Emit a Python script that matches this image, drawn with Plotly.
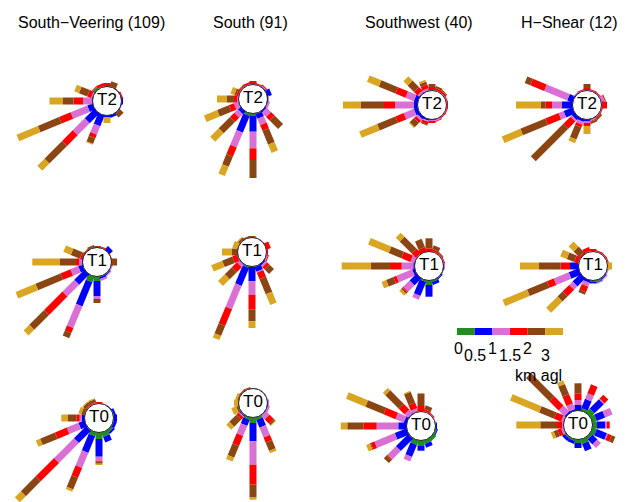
import math
import plotly.graph_objects as go

# ---------------- data ----------------
height_labels = ["0", "0.5", "1", "1.5", "2", "3"]
bin_colors = ["#228B22", "#0000FF", "#DA70D6", "#FF0000", "#8B4513", "#DAA520"]
regime_titles = ["South\u2212Veering (109)", "South (91)", "Southwest (40)", "H\u2212Shear (12)"]
time_labels = ["T2", "T1", "T0"]
directions_deg = [k * 22.5 for k in range(16)]  # counter-clockwise from east

# each row = one direction; values = bar length per height bin [0-0.5,0.5-1,1-1.5,1.5-2,2-3,3+]
south_veering_t2 = [
    [0, 2, 0, 0, 0, 0], [0, 1, 0, 1, 0, 0], [0, 0, 0, 1, 0, 0], [0, 0, 0, 1, 5, 0],
    [0, 0, 0, 4, 0, 0], [0, 0, 1, 3, 0, 0], [3, 0, 0, 1, 0, 0], [0, 1, 1, 4, 9, 5],
    [0, 1, 9, 9.5, 10.5, 13.5], [0, 6, 18, 12.5, 23, 23], [0, 14, 17, 15, 25, 10], [0, 12, 9, 4, 6, 1],
    [0, 2, 0, 0, 0, 6], [0, 3, 0, 0, 0, 0], [0, 1, 0, 0, 5, 0], [0, 1, 0, 0, 0, 0],
]
south_t2 = [
    [0, 1, 1, 0, 0, 0], [0, 5, 0, 0, 0, 0], [0, 1, 1, 1, 0, 0], [0, 0, 1, 1, 0, 0],
    [0, 0, 1, 2, 1, 0], [0, 0, 1, 2, 0, 0], [0, 0, 1, 1, 1, 0], [0, 0, 1, 2, 2, 4],
    [0, 0, 2, 3, 7.5, 9.5], [0, 1, 4.4, 5.4, 12.6, 14.3], [0, 4, 5, 6, 16, 12], [3, 18, 16, 10, 11, 10],
    [3, 15.7, 16.6, 11.7, 18, 0], [1, 5, 7, 6, 15, 9], [0, 2, 6, 5, 12, 0], [0, 1, 2, 0, 0, 0],
]
southwest_t2 = [
    [0, 0, 1, 1, 0, 0], [0, 0, 1, 1, 0, 0], [0, 0, 1, 2, 1, 0], [0, 0, 1, 2, 2, 0],
    [0, 0, 1, 3, 3, 0], [0, 1, 2, 4, 3, 2], [0, 1, 2, 5, 9, 6], [0, 4.4, 9, 10.8, 18, 12.7],
    [0, 4, 19, 11, 23, 18], [0, 4.4, 10.8, 9, 19.8, 19.4], [0, 3, 2, 3, 6, 1], [0, 2, 1, 3, 1, 0],
    [0, 1, 1, 2, 0, 0], [0, 1, 1, 1, 0, 0], [0, 0, 1, 1, 0, 0], [0, 0, 1, 1, 0, 0],
]
h_shear_t2 = [
    [0, 0, 1, 5, 0, 0], [0, 0, 4, 1, 0, 0], [0, 0, 1, 1, 0, 0], [0, 0, 1, 1, 0, 0],
    [0, 0, 1, 2, 4, 0], [0, 0, 1, 1, 0, 0], [0, 1, 1, 0, 0, 0], [0, 6, 25, 15, 6, 0],
    [0, 11, 10, 6.7, 4.3, 25], [0, 10, 5.4, 14.4, 27, 20], [0, 4, 2, 10, 46, 0], [0, 3, 3, 3, 13, 4],
    [0, 2, 2, 2, 1, 8], [0, 1, 1, 1, 2, 0], [0, 0, 1, 1, 2, 0], [0, 0, 1, 1, 0, 0],
]
south_veering_t1 = [
    [0, 0, 0, 1, 5, 0], [0, 0, 0, 1, 0, 0], [0, 5, 0, 0, 0, 0], [0, 0, 1, 1, 0, 0],
    [0, 0, 0, 1, 1, 0], [0, 0, 0, 1, 2, 0], [0, 0, 0, 1, 1, 0], [0, 1, 0, 2, 10, 8],
    [0, 1, 2.7, 3.3, 16, 27.7], [0, 5, 8.4, 10.8, 27, 21.5], [0, 14.7, 16.6, 26, 21, 8], [6.6, 26, 23.5, 5.4, 5.6, 0],
    [5, 15, 3, 1, 3, 0], [1, 2, 2, 0, 0, 0], [1, 1, 1, 0, 0, 0], [0, 1, 1, 0, 0, 0],
]
south_t1 = [
    [0, 0, 1, 1, 0, 0], [0, 0, 0, 5, 0, 0], [0, 0, 1, 0, 0, 0], [0, 0, 1, 0, 0, 0],
    [0, 0, 0, 1, 1, 0], [0, 0, 0, 1, 1, 0], [0, 0, 0, 1, 2, 1], [0, 0, 0, 0, 1, 5],
    [0, 0, 0, 1, 5, 10], [0, 0, 1, 5, 11, 11.8], [0, 1, 3, 7, 10, 9.6], [2, 19.4, 25.2, 18, 10.8, 4.5],
    [1, 14.3, 13.4, 15, 11.6, 6.7], [1, 5, 1, 7, 16.4, 11.6], [0, 2, 2, 3, 6.6, 0], [0, 1, 1, 1, 0, 0],
]
southwest_t1 = [
    [0, 1, 1, 0, 0, 0], [0, 0, 1, 1, 0, 0], [0, 0, 1, 1, 1, 0], [0, 0, 1, 2, 4, 0],
    [0, 0, 0, 3.7, 10, 0], [0, 0, 0, 5, 9, 0], [0, 0, 1, 6, 17, 5.6], [0, 1, 3.8, 9.7, 13.7, 22.3],
    [0, 1.7, 11.6, 11.7, 19.3, 29], [0, 3, 17, 3, 8, 5], [0, 10, 9, 1, 2, 2.6], [2, 15, 4, 0, 0, 0],
    [5, 11.7, 0, 0, 0, 0], [2, 3, 0, 0, 0, 0], [1, 1, 0, 0, 0, 0], [0, 1, 0, 0, 0, 0],
]
h_shear_t1 = [
    [0, 0, 0, 0, 0, 5], [0, 0, 1, 1, 0, 0], [0, 0, 1, 1, 0, 0], [0, 0, 1, 1, 0, 0],
    [0, 0, 1, 2, 0, 0], [0, 0, 1, 4, 0, 0], [0, 0, 0, 2, 8, 7], [0, 0, 1, 4, 8, 7],
    [0, 9, 0, 9.3, 21.7, 19], [0, 10.9, 16.2, 7.3, 21.6, 26.5], [0, 11.5, 4.7, 9.4, 7.1, 16], [0, 3, 4, 6, 2.6, 0],
    [2, 1, 1, 0, 0, 0], [2, 1, 1, 0, 0, 0], [1, 1, 1, 0, 0, 0], [0, 1, 1, 0, 0, 0],
]
south_veering_t0 = [
    [1, 3, 0, 0, 0, 0], [1, 2, 0, 0, 0, 0], [0, 1, 0, 0, 0, 0], [0, 0, 1, 0, 0, 0],
    [0, 0, 1, 1, 0, 0], [0, 0, 1, 1, 3, 1], [0, 0, 1, 1, 3, 1], [0, 0, 0, 1, 3, 3],
    [0, 3, 2.3, 3.4, 8.3, 6.7], [0, 6.9, 12.6, 12.7, 16.2, 4.6], [1, 17, 28, 26, 21, 8.5], [4.4, 18, 16.2, 10.8, 12.5, 2.4],
    [7, 17.7, 4, 1, 2, 1.3], [5, 6, 0, 0, 0, 0], [3, 2, 0, 0, 0, 0], [1, 3, 0, 0, 0, 0],
]
south_t0 = [
    [0, 1, 1, 0, 0, 0], [0, 0, 1, 0, 0, 0], [0, 0, 1, 0, 0, 0], [0, 0, 1, 0, 0, 0],
    [0, 0, 1, 0, 0, 0], [0, 0, 0, 1, 1, 0], [0, 0, 0, 1, 1, 0], [0, 0, 0, 1, 1, 2],
    [0, 0, 0, 0, 1, 4], [0, 0, 0, 1, 2, 5], [1, 1, 1, 3, 10, 4.2], [3, 6.5, 10.8, 10.7, 12.7, 4.3],
    [6, 18.3, 23.4, 20, 12.3, 2.7], [3, 8.3, 10.7, 5.5, 9, 2.5], [1, 0, 5, 6, 2, 1], [0, 1, 2, 0, 0, 0],
]
southwest_t0 = [
    [1, 1, 0, 0, 0, 0], [0, 0, 1, 0, 0, 0], [0, 0, 1, 1, 0, 0], [0, 0, 1, 2, 4, 0],
    [0, 0, 1, 5, 12, 1], [0, 1, 3, 6, 11.6, 1], [0, 1, 5, 8, 19, 3.4], [0, 3.3, 9, 12.7, 19.8, 20.9],
    [0, 8.7, 21.6, 13.4, 16, 6.6], [0, 13, 22, 4, 1, 4], [1, 17, 12, 1, 4, 0], [5, 13, 5, 0, 0, 0],
    [6, 4.7, 0, 0, 0, 0], [4, 4, 0, 0, 0, 0], [4, 0, 0, 0, 0, 0], [2, 1, 0, 0, 0, 0],
]
h_shear_t0 = [
    [5, 8, 2, 2.7, 0, 0], [5, 9, 8, 0, 0, 0], [6, 13, 1, 5.4, 0, 0], [3, 10, 6, 9.6, 0, 0],
    [0, 6, 5, 6.7, 10, 0], [0, 2, 6, 10, 11, 4], [0, 2, 8, 13, 33, 0], [0, 1, 2, 7.5, 16.3, 31.4],
    [0, 0, 2, 5, 16.7, 24], [0, 1, 2, 4, 4, 3], [2, 3, 0, 0, 0, 0], [2, 3, 0, 0, 0, 0],
    [4, 5, 0, 0, 0, 0], [5, 8, 0, 0, 0, 0], [3, 7, 5, 0, 0, 0], [5, 11, 1, 4, 4, 0],
]

# ---------------- layout (pixel space) ----------------
W, H = 630, 502
PAGE_OFF = 8     # default body margin of the written html page
SCALE = 1.0      # px per unit
R0 = 14.0        # inner radius (circle)
BAR_W = 7

roses = [
    (south_veering_t2, "T2", 107, 101), (south_t2, "T2", 253, 99),
    (southwest_t2, "T2", 432, 105), (h_shear_t2, "T2", 587, 105),
    (south_veering_t1, "T1", 97, 262), (south_t1, "T1", 252, 252),
    (southwest_t1, "T1", 429, 266), (h_shear_t1, "T1", 593, 266),
    (south_veering_t0, "T0", 99, 418), (south_t0, "T0", 253, 403),
    (southwest_t0, "T0", 421, 426), (h_shear_t0, "T0", 578, 425),
]
title_x = [91, 250, 419, 569]

seg_x = [[] for _ in bin_colors]
seg_y = [[] for _ in bin_colors]
for data, lab, cx, cy in roses:
    for ang, row in zip(directions_deg, data):
        th = math.radians(ang)
        c, s = math.cos(th), math.sin(th)
        r = R0
        for j, L in enumerate(row):
            if L <= 0:
                continue
            r2 = r + L * SCALE
            seg_x[j] += [cx + r * c, cx + r2 * c, None]
            seg_y[j] += [cy - r * s, cy - r2 * s, None]
            r = r2

fig = go.Figure()
for j, col in enumerate(bin_colors):
    fig.add_trace(go.Scatter(x=seg_x[j], y=seg_y[j], mode="lines",
                             line=dict(color=col, width=BAR_W), hoverinfo="skip"))

# centre circles
fig.add_trace(go.Scatter(
    x=[r[2] for r in roses], y=[r[3] for r in roses], mode="markers+text",
    marker=dict(size=2 * R0 + 1, color="white", line=dict(color="#222222", width=1)),
    text=[r[1] for r in roses], textposition="middle center",
    textfont=dict(family="Liberation Sans, Arial", size=17, color="black"),
    hoverinfo="skip"))

# legend bar
LX0, LX1, LY = 457, 563, 331.5
step = (LX1 - LX0) / len(bin_colors)
for j, col in enumerate(bin_colors):
    fig.add_trace(go.Scatter(x=[LX0 + j * step, LX0 + (j + 1) * step], y=[LY, LY], mode="lines",
                             line=dict(color=col, width=BAR_W), hoverinfo="skip"))

annotations = []
for t, x in zip(regime_titles, title_x):
    annotations.append(dict(x=x, y=22, text=t, showarrow=False, xanchor="center", yanchor="middle",
                            font=dict(family="Liberation Sans, Arial", size=16, color="black")))
for j, hl in enumerate(height_labels):
    annotations.append(dict(x=LX0 + j * step + (1 if j == 0 else 0), y=348 if j % 2 == 0 else 355,
                            text=hl, showarrow=False, xanchor="center", yanchor="middle",
                            font=dict(family="Liberation Sans, Arial", size=16, color="black")))
annotations.append(dict(x=538, y=375, text="km agl", showarrow=False, xanchor="center", yanchor="middle",
                        font=dict(family="Liberation Sans, Arial", size=16, color="black")))

fig.update_layout(
    width=W, height=H, autosize=False, showlegend=False,
    margin=dict(l=0, r=0, t=0, b=0),
    paper_bgcolor="white", plot_bgcolor="white",
    xaxis=dict(range=[PAGE_OFF, W + PAGE_OFF], visible=False, fixedrange=True),
    yaxis=dict(range=[H + PAGE_OFF, PAGE_OFF], visible=False, fixedrange=True),
    annotations=annotations,
)
fig.write_html("out.html")
